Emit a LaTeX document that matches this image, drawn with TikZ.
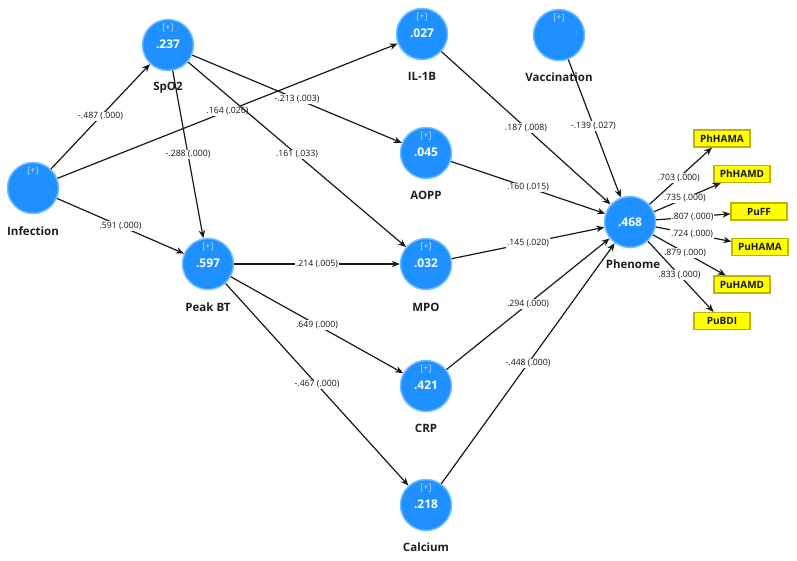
\documentclass[tikz,border=0pt]{standalone}
\usepackage{fontspec}
\setmainfont{Open Sans}
\usetikzlibrary{arrows.meta}
\definecolor{lvblue}{RGB}{30,144,255}
\definecolor{lvring}{RGB}{115,188,255}
\definecolor{plusc}{RGB}{190,222,255}
\definecolor{boxfill}{RGB}{255,255,0}
\definecolor{boxline}{RGB}{190,180,0}
\begin{document}
\begin{tikzpicture}[x=1pt,y=-1pt,
 lv/.style={circle, fill=lvblue, draw=lvring, line width=1.5pt, minimum size=51pt, inner sep=0pt},
 ind/.style={rectangle, fill=boxfill, draw=boxline, line width=1.2pt, minimum width=56pt, minimum height=17pt, inner sep=0pt, font=\fontsize{10}{12}\selectfont\bfseries, text=black!90},
 nm/.style={font=\fontsize{11.5}{13}\selectfont\bfseries, text=black!88},
 val/.style={font=\fontsize{12}{14}\selectfont\bfseries, text=white},
 plus/.style={font=\fontsize{9}{10}\selectfont, text=plusc},
 conn/.style={draw=black!90, line width=1.2pt, -{Stealth[length=8pt,width=6.5pt]}},
 coef/.style={fill=white, inner sep=1pt, font=\fontsize{8.7}{10}\selectfont, text=black!92}
]
\useasboundingbox (0,0) rectangle (797,560);
\fill[white] (0,0) rectangle (797,560);

% latent variables
\node[lv] (inf) at (33,188) {};
\node[lv] (spo) at (168,45) {};
\node[lv] (il) at (422,34) {};
\node[lv] (vac) at (559,35) {};
\node[lv] (aopp) at (426,153) {};
\node[lv] (pbt) at (208,264) {};
\node[lv] (mpo) at (426,264) {};
\node[lv] (crp) at (426,386) {};
\node[lv] (cal) at (426,505) {};
\node[lv] (phe) at (630,222) {};

% [+] marks
\node[plus] (infp) at (33,171) {[+]};
\node[plus] (spop) at (168,28) {[+]};
\node[plus] (ilp) at (422,17) {[+]};
\node[plus] (vacp) at (559,18) {[+]};
\node[plus] (aoppp) at (426,136) {[+]};
\node[plus] (pbtp) at (208,247) {[+]};
\node[plus] (mpop) at (426,247) {[+]};
\node[plus] (crpp) at (426,369) {[+]};
\node[plus] (calp) at (426,488) {[+]};

% values
\node[val] (spov) at (168,44) {.237};
\node[val] (ilv) at (422,33) {.027};
\node[val] (aoppv) at (426,152) {.045};
\node[val] (pbtv) at (208,263) {.597};
\node[val] (mpov) at (426,263) {.032};
\node[val] (crpv) at (426,385) {.421};
\node[val] (calv) at (426,504) {.218};
\node[val] (phev) at (630,222) {.468};

% names
\node[nm] (infn) at (33,231) {Infection};
\node[nm] (spon) at (168,88) {SpO2};
\node[nm] (iln) at (422,76) {IL-1B};
\node[nm] (vacn) at (559,77) {Vaccination};
\node[nm] (aoppn) at (426,195) {AOPP};
\node[nm] (pbtn) at (208,307) {Peak BT};
\node[nm] (mpon) at (426,307) {MPO};
\node[nm] (crpn) at (426,428) {CRP};
\node[nm] (caln) at (426,547) {Calcium};
\node[nm] (phen) at (633,264) {Phenome};

% indicators
\node[ind] (i1) at (722,138.5) {PhHAMA};
\node[ind] (i2) at (742,174) {PhHAMD};
\node[ind] (i3) at (759,211.5) {PuFF};
\node[ind] (i4) at (760,247) {PuHAMA};
\node[ind] (i5) at (742,284.5) {PuHAMD};
\node[ind] (i6) at (722,321) {PuBDI};

% structural paths
\draw[conn] (inf) -- node[coef]{-.487 (.000)} (spo);
\draw[conn] (inf) -- node[coef]{.164 (.026)} (il);
\draw[conn] (inf) -- node[coef]{.591 (.000)} (pbt);
\draw[conn] (spo) -- node[coef]{-.288 (.000)} (pbt);
\draw[conn] (spo) -- node[coef]{-.213 (.003)} (aopp);
\draw[conn] (spo) -- node[coef]{.161 (.033)} (mpo);
\draw[conn] (il) -- node[coef]{.187 (.008)} (phe);
\draw[conn] (vac) -- node[coef,pos=0.48]{-.139 (.027)} (phe);
\draw[conn] (aopp) -- node[coef]{.160 (.015)} (phe);
\draw[conn] (pbt) -- node[coef]{.214 (.005)} (mpo);
\draw[conn] (mpo) -- node[coef]{.145 (.020)} (phe);
\draw[conn] (pbt) -- node[coef]{.649 (.000)} (crp);
\draw[conn] (pbt) -- node[coef]{-.467 (.000)} (cal);
\draw[conn] (crp) -- node[coef]{.294 (.000)} (phe);
\draw[conn] (cal) -- node[coef]{-.448 (.000)} (phe);

% measurement paths
\draw[conn] (phe) -- node[coef,pos=0.47]{.703 (.000)} (i1);
\draw[conn] (phe) -- node[coef,pos=0.46]{.735 (.000)} (i2);
\draw[conn] (phe) -- node[coef,pos=0.49]{.807 (.000)} (i3);
\draw[conn] (phe) -- node[coef,pos=0.48]{.724 (.000)} (i4);
\draw[conn] (phe) -- node[coef,pos=0.44]{.879 (.000)} (i5);
\draw[conn] (phe) -- node[coef,pos=0.48]{.833 (.000)} (i6);
\end{tikzpicture}
\end{document}
